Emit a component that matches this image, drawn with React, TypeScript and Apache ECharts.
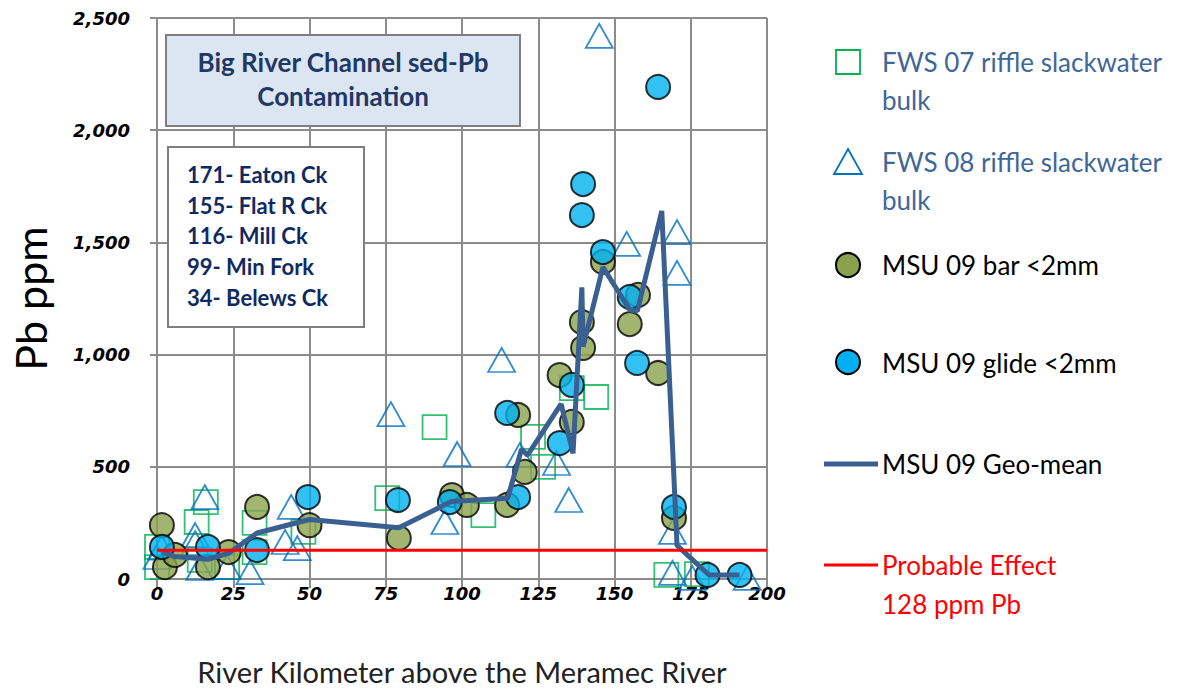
import React, { useEffect, useRef } from 'react';
import * as echarts from 'echarts';

// ---- Data (river km, Pb ppm) ----
const fws07Km = [0, 0, 13, 16, 14, 23, 32, 32, 48, 75.5, 91, 107, 123.3, 126.6, 136, 144, 167, 177];
const fws07Pb = [143, 53, 254, 343, 85, 53, 250, 120, 210, 360, 677, 285, 633, 500, 851, 811, 18, 22];

const fws08Km = [0, 1.5, 12.5, 12.5, 15.7, 14, 23, 30.5, 42, 44, 46, 76.7, 94.4, 98.4, 113, 119, 131, 135, 145, 154, 170.5, 170.5, 169, 169, 175.5, 193.5];
const fws08Pb = [98, 140, 196, 160, 365, 49, 53, 31, 165, 321, 138, 735, 254, 557, 976, 553, 517, 352, 2420, 1493, 1546, 1364, 210, 27, 5, 5];

const barKm = [1.6, 2.6, 5.9, 16.7, 23.5, 32.8, 50, 79.3, 96.7, 101.6, 114.8, 118.4, 120.6, 132, 136, 139.3, 139.7, 146.2, 155, 157.7, 164.3, 169.5];
const barPb = [240, 53, 107, 53, 120, 321, 240, 183, 374, 330, 330, 731, 477, 909, 700, 1145, 1030, 1413, 1136, 1266, 918, 272];

const glideKm = [1.6, 16.7, 32.8, 49.5, 79, 96, 114.8, 118.4, 132, 136, 139.3, 139.7, 146.2, 155, 157.4, 164.3, 169.5, 180.5, 191];
const glidePb = [143, 143, 129, 365, 352, 343, 740, 365, 606, 865, 1622, 1760, 1457, 1257, 963, 2193, 321, 18, 18];

const geoKm = [1.6, 5.9, 16.7, 23.5, 32.8, 50, 79.3, 96.5, 115, 119.5, 121.5, 132.5, 136.4, 139.3, 139.7, 146.2, 155, 157.5, 165.5, 170.5, 181, 191];
const geoPb = [122, 100, 88, 115, 205, 265, 228, 345, 360, 578, 552, 780, 560, 1300, 1035, 1390, 1200, 1195, 1640, 150, 18, 18];

const peKm = [0, 200];
const pePb = [128, 128];

const creekLines = ['171- Eaton Ck', '155- Flat R Ck', '116- Mill Ck', '99- Min Fork', '34- Belews Ck'];

const pairs = (xs: number[], ys: number[]) => xs.map((x, i) => [x, ys[i]]);

const GRID = '#8c8c8c';
const LEG = '#3F6797';

export default function App() {
  const ref = useRef<HTMLDivElement>(null);
  useEffect(() => {
    document.body.style.margin = '0';
    const chart = echarts.init(ref.current!, null, { renderer: 'svg' });
    const axisFont = { fontFamily: 'DejaVu Sans', fontWeight: 'bold' as const, fontStyle: 'italic' as const, fontSize: 18, color: '#000' };
    const legendFont = '26px Lato';
    const option: any = {
      animation: false,
      backgroundColor: '#fff',
      grid: { left: 157, top: 18, width: 610, height: 561 },
      xAxis: {
        type: 'value', min: 0, max: 200, interval: 25,
        axisLine: { show: true, onZero: false, lineStyle: { color: GRID, width: 2 } },
        axisTick: { show: true, length: 9, lineStyle: { color: GRID, width: 2 } },
        splitLine: { show: true, lineStyle: { color: GRID, width: 2 } },
        axisLabel: { ...axisFont, margin: 5 },
        name: 'River Kilometer above the Meramec River',
        nameLocation: 'middle', nameGap: 78,
        nameTextStyle: { fontFamily: 'Lato', fontSize: 29, color: '#222' },
      },
      yAxis: {
        type: 'value', min: 0, max: 2500, interval: 500,
        axisLine: { show: true, onZero: false, lineStyle: { color: GRID, width: 2 } },
        axisTick: { show: true, length: 7, lineStyle: { color: GRID, width: 2 } },
        splitLine: { show: true, lineStyle: { color: GRID, width: 2 } },
        axisLabel: { ...axisFont, margin: 27, formatter: (v: number) => v.toLocaleString('en-US') },
        name: 'Pb ppm', nameLocation: 'middle', nameGap: 105,
        nameTextStyle: { fontFamily: 'Lato', fontSize: 43, color: '#000' },
      },
      legend: { show: false },
      series: [
        {
          name: 'FWS 07 riffle slackwater bulk', type: 'scatter', symbol: 'rect', symbolSize: 24,
          itemStyle: { color: 'rgba(255,255,255,0)', borderColor: '#00B050', borderWidth: 1.8 },
          data: pairs(fws07Km, fws07Pb), silent: true,
        },
        {
          name: 'FWS 08 riffle slackwater bulk', type: 'scatter', symbol: 'triangle', symbolSize: [27, 24],
          itemStyle: { color: 'rgba(255,255,255,0)', borderColor: '#0070C0', borderWidth: 1.8 },
          data: pairs(fws08Km, fws08Pb), silent: true,
        },
        {
          name: 'MSU 09 Geo-mean', type: 'line', symbol: 'none', showSymbol: false,
          lineStyle: { color: '#3A6092', width: 5 },
          data: pairs(geoKm, geoPb), silent: true,
        },
        {
          name: 'Probable Effect 128 ppm Pb', type: 'line', symbol: 'none', showSymbol: false,
          lineStyle: { color: '#FF0000', width: 3 },
          data: pairs(peKm, pePb), silent: true,
        },
        {
          name: 'MSU 09 bar <2mm', type: 'scatter', symbol: 'circle', symbolSize: 24,
          itemStyle: { color: '#8AA24E', borderColor: '#000', borderWidth: 2 },
          data: pairs(barKm, barPb), silent: true,
        },
        {
          name: 'MSU 09 glide <2mm', type: 'scatter', symbol: 'circle', symbolSize: 24,
          itemStyle: { color: '#00B0F0', borderColor: '#000', borderWidth: 2 },
          data: pairs(glideKm, glidePb), silent: true,
        },
      ],
      graphic: [
        // title box
        { type: 'rect', shape: { x: 166, y: 35, width: 354, height: 91 }, style: { fill: '#DCE6F2', stroke: '#7F7F7F', lineWidth: 2 }, z: 10 },
        { type: 'text', x: 343, y: 79, z: 11, style: { text: 'Big River Channel sed-Pb\nContamination', font: 'bold 26px Lato', fill: '#1F3864', align: 'center', verticalAlign: 'middle', lineHeight: 34 } },
        // creek box
        { type: 'rect', shape: { x: 168, y: 147, width: 196, height: 180 }, style: { fill: '#fff', stroke: '#7F7F7F', lineWidth: 2 }, z: 10 },
        { type: 'text', x: 187, y: 159, z: 11, style: { text: creekLines.join('\n'), font: 'bold 22px Lato', fill: '#0F2A63', align: 'left', verticalAlign: 'top', lineHeight: 30.7 } },
        // legend
        { type: 'rect', shape: { x: 836, y: 50, width: 24, height: 24 }, style: { fill: 'none', stroke: '#00B050', lineWidth: 1.8 } },
        { type: 'text', x: 882, y: 62, style: { text: 'FWS 07 riffle slackwater', font: legendFont, fill: LEG, verticalAlign: 'middle' } },
        { type: 'text', x: 882, y: 100, style: { text: 'bulk', font: legendFont, fill: LEG, verticalAlign: 'middle' } },
        { type: 'polygon', shape: { points: [[848, 149], [862, 174], [834, 174]] }, style: { fill: 'none', stroke: '#0070C0', lineWidth: 1.8 } },
        { type: 'text', x: 882, y: 162, style: { text: 'FWS 08 riffle slackwater', font: legendFont, fill: LEG, verticalAlign: 'middle' } },
        { type: 'text', x: 882, y: 200, style: { text: 'bulk', font: legendFont, fill: LEG, verticalAlign: 'middle' } },
        { type: 'circle', shape: { cx: 848, cy: 265, r: 12 }, style: { fill: '#8AA24E', stroke: '#000', lineWidth: 2 } },
        { type: 'text', x: 882, y: 265, style: { text: 'MSU 09 bar <2mm', font: legendFont, fill: '#000', verticalAlign: 'middle' } },
        { type: 'circle', shape: { cx: 848, cy: 362, r: 12 }, style: { fill: '#00B0F0', stroke: '#000', lineWidth: 2 } },
        { type: 'text', x: 882, y: 363, style: { text: 'MSU 09 glide <2mm', font: legendFont, fill: '#000', verticalAlign: 'middle' } },
        { type: 'line', shape: { x1: 824, y1: 464, x2: 878, y2: 464 }, style: { stroke: '#3A6092', lineWidth: 5 } },
        { type: 'text', x: 882, y: 464, style: { text: 'MSU 09 Geo-mean', font: legendFont, fill: '#000', verticalAlign: 'middle' } },
        { type: 'line', shape: { x1: 824, y1: 565, x2: 878, y2: 565 }, style: { stroke: '#FF0000', lineWidth: 3 } },
        { type: 'text', x: 882, y: 565, style: { text: 'Probable Effect', font: legendFont, fill: '#FF0000', verticalAlign: 'middle' } },
        { type: 'text', x: 882, y: 604, style: { text: '128 ppm Pb', font: legendFont, fill: '#FF0000', verticalAlign: 'middle' } },
      ],
    };
    chart.setOption(option);
    return () => chart.dispose();
  }, []);
  return <div ref={ref} style={{ width: 1191, height: 691 }} />;
}
